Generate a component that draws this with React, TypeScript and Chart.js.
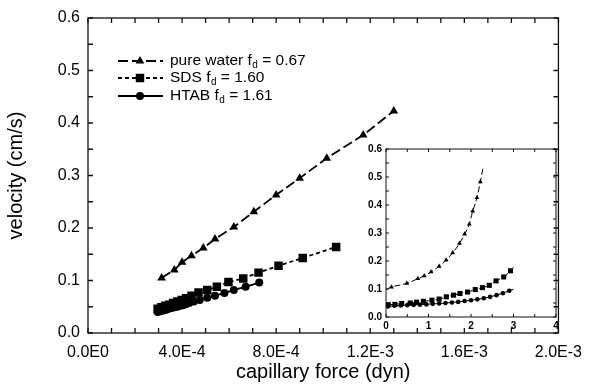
import { useEffect, useRef } from "react";
import { Chart, registerables } from "chart.js";

Chart.register(...registerables);

// ---------- data (main plot) ----------
const waterForce = [3.13e-4, 3.67e-4, 4.0e-4, 4.4e-4, 4.9e-4, 5.4e-4, 6.2e-4, 7.05e-4, 8.0e-4, 9.0e-4, 1.015e-3, 1.17e-3, 1.3e-3];
const waterVelocity = [0.105, 0.12, 0.135, 0.147, 0.162, 0.179, 0.202, 0.231, 0.263, 0.295, 0.333, 0.377, 0.423];

const sdsForce = [2.96e-4, 3.12e-4, 3.28e-4, 3.45e-4, 3.62e-4, 3.8e-4, 3.98e-4, 4.17e-4, 4.4e-4, 4.7e-4, 5.07e-4, 5.48e-4, 5.97e-4, 6.6e-4, 7.25e-4, 8.1e-4, 9.13e-4, 1.055e-3];
const sdsVelocity = [0.046, 0.049, 0.052, 0.054, 0.057, 0.06, 0.063, 0.066, 0.071, 0.077, 0.082, 0.088, 0.097, 0.104, 0.115, 0.128, 0.143, 0.164];

const htabForce = [2.96e-4, 3.08e-4, 3.2e-4, 3.32e-4, 3.44e-4, 3.56e-4, 3.68e-4, 3.8e-4, 3.92e-4, 4.04e-4, 4.16e-4, 4.3e-4, 4.5e-4, 4.75e-4, 5.07e-4, 5.4e-4, 5.8e-4, 6.2e-4, 6.7e-4, 7.28e-4];
const htabVelocity = [0.04, 0.0415, 0.043, 0.0445, 0.046, 0.0475, 0.049, 0.05, 0.052, 0.053, 0.055, 0.057, 0.06, 0.063, 0.067, 0.071, 0.076, 0.082, 0.088, 0.096];

const mainXTicks = [0, 0.0004, 0.0008, 0.0012, 0.0016, 0.002];
const mainXLabels = ["0.0E0", "4.0E-4", "8.0E-4", "1.2E-3", "1.6E-3", "2.0E-3"];
const mainYTicks = [0, 0.1, 0.2, 0.3, 0.4, 0.5, 0.6];
const mainYLabels = ["0.0", "0.1", "0.2", "0.3", "0.4", "0.5", "0.6"];

const legendLabels = [
  { main: "pure water f", sub: "d", tail: " = 0.67" },
  { main: "SDS f", sub: "d", tail: " = 1.60" },
  { main: "HTAB f", sub: "d", tail: " = 1.61" },
];

// ---------- data (inset) ----------
const insetWaterX = [0.13, 0.49, 0.75, 0.9, 1.06, 1.25, 1.415, 1.57, 1.73, 1.85, 1.96, 2.04, 2.14, 2.22];
const insetWaterV = [0.107, 0.12, 0.137, 0.147, 0.161, 0.181, 0.203, 0.229, 0.263, 0.296, 0.332, 0.378, 0.426, 0.483];
const insetWaterFitEnds = { x: [0, 2.28], v: [0.098, 0.531] };

const insetSdsX = [0.055, 0.21, 0.37, 0.57, 0.72, 0.88, 1.08, 1.25, 1.42, 1.59, 1.74, 1.92, 2.1, 2.27, 2.43, 2.59, 2.77, 2.93];
const insetSdsV = [0.044, 0.045, 0.048, 0.05, 0.053, 0.056, 0.06, 0.064, 0.072, 0.078, 0.084, 0.089, 0.098, 0.105, 0.113, 0.129, 0.143, 0.165];
const insetSdsFitEnds = { x: [0, 3.0], v: [0.043, 0.178] };

const insetHtabX = [0.05, 0.2, 0.35, 0.5, 0.65, 0.8, 0.95, 1.1, 1.25, 1.4, 1.55, 1.7, 1.85, 2.0, 2.15, 2.3, 2.45, 2.6, 2.75, 2.9];
const insetHtabV = [0.038, 0.04, 0.041, 0.042, 0.043, 0.044, 0.045, 0.047, 0.048, 0.05, 0.052, 0.054, 0.057, 0.06, 0.063, 0.067, 0.072, 0.078, 0.085, 0.094];
const insetHtabFitEnds = { x: [0, 3.0], v: [0.037, 0.099] };

const insetXTicks = [0, 1, 2, 3, 4];
const insetXLabels = ["0", "1", "2", "3", "4"];
const insetYTicks = [0, 0.1, 0.2, 0.3, 0.4, 0.5, 0.6];
const insetYLabels = ["0.0", "0.1", "0.2", "0.3", "0.4", "0.5", "0.6"];

const FONT = "'Liberation Sans', Arial, Helvetica, sans-serif";

const pts = (xs: number[], ys: number[]) => xs.map((x, i) => ({ x, y: ys[i] }));
const fitPts = (xs: number[], ys: number[], ends: { x: number[]; v: number[] }) => [
  { x: ends.x[0], y: ends.v[0] },
  ...pts(xs, ys),
  { x: ends.x[1], y: ends.v[1] },
];

// frame with inward ticks
const framePlugin = {
  id: "frameTicks",
  afterDraw(chart: any, _args: any, opts: any) {
    const { ctx, chartArea } = chart;
    const { left, right, top, bottom } = chartArea;
    const xs = chart.scales.x;
    const ys = chart.scales.y;
    ctx.save();
    ctx.strokeStyle = "#111";
    ctx.lineWidth = opts.lineWidth || 1.2;
    ctx.setLineDash([]);
    ctx.strokeRect(left, top, right - left, bottom - top);
    const L = opts.tickLen || 5;
    ctx.beginPath();
    for (let v = xs.min; v <= xs.max + 1e-12; v += opts.xStep) {
      const px = xs.getPixelForValue(v);
      ctx.moveTo(px, bottom);
      ctx.lineTo(px, bottom - L);
      ctx.moveTo(px, top);
      ctx.lineTo(px, top + L);
    }
    for (let v = ys.min; v <= ys.max + 1e-12; v += opts.yStep) {
      const py = ys.getPixelForValue(v);
      ctx.moveTo(left, py);
      ctx.lineTo(left + L, py);
      ctx.moveTo(right, py);
      ctx.lineTo(right - L, py);
    }
    ctx.stroke();
    ctx.restore();
  },
};

function drawMarker(ctx: CanvasRenderingContext2D, kind: string, x: number, y: number, r: number) {
  ctx.beginPath();
  if (kind === "triangle") {
    for (let k = 0; k < 3; k++) {
      const a = (k * 2 * Math.PI) / 3;
      const px = x + Math.sin(a) * r;
      const py = y - Math.cos(a) * r;
      if (k === 0) ctx.moveTo(px, py);
      else ctx.lineTo(px, py);
    }
    ctx.closePath();
  } else if (kind === "rect") {
    const s = r * Math.SQRT1_2;
    ctx.rect(x - s, y - s, 2 * s, 2 * s);
  } else {
    ctx.arc(x, y, r, 0, Math.PI * 2);
  }
  ctx.fill();
}

const legendPlugin = {
  id: "customLegend",
  afterDraw(chart: any) {
    const ctx: CanvasRenderingContext2D = chart.ctx;
    const rows = [61, 78, 96];
    const dashes = [[10, 4], [4, 3], []];
    const kinds = ["triangle", "rect", "circle"];
    const radii = [5, 6, 4];
    ctx.save();
    ctx.fillStyle = "#000";
    ctx.strokeStyle = "#000";
    legendLabels.forEach((item, i) => {
      const y = rows[i];
      ctx.lineWidth = 1.8;
      ctx.setLineDash(dashes[i]);
      ctx.beginPath();
      ctx.moveTo(118, y);
      ctx.lineTo(163, y);
      ctx.stroke();
      ctx.setLineDash([]);
      drawMarker(ctx, kinds[i], 140, y, radii[i]);
      ctx.textBaseline = "middle";
      ctx.textAlign = "left";
      let x = 170;
      ctx.font = `15.5px ${FONT}`;
      ctx.fillText(item.main, x, y);
      x += ctx.measureText(item.main).width;
      ctx.font = `10px ${FONT}`;
      ctx.fillText(item.sub, x + 0.5, y + 4);
      x += ctx.measureText(item.sub).width + 0.5;
      ctx.font = `15.5px ${FONT}`;
      ctx.fillText(item.tail, x, y);
    });
    ctx.restore();
  },
};

export default function App() {
  const mainRef = useRef<HTMLCanvasElement | null>(null);
  const insetRef = useRef<HTMLCanvasElement | null>(null);

  useEffect(() => {
    if (!mainRef.current || !insetRef.current) return;

    const main = new Chart(mainRef.current, {
      type: "scatter",
      data: {
        datasets: [
          {
            label: "pure water",
            data: pts(waterForce, waterVelocity),
            showLine: true,
            borderColor: "#000",
            backgroundColor: "#000",
            borderWidth: 1.8,
            borderDash: [10, 4],
            pointStyle: "triangle",
            pointRadius: 5,
            pointBorderWidth: 0,
          },
          {
            label: "SDS",
            data: pts(sdsForce, sdsVelocity),
            showLine: true,
            borderColor: "#000",
            backgroundColor: "#000",
            borderWidth: 1.8,
            borderDash: [4, 3],
            pointStyle: "rect",
            pointRadius: 6,
            pointBorderWidth: 0,
          },
          {
            label: "HTAB",
            data: pts(htabForce, htabVelocity),
            showLine: true,
            borderColor: "#000",
            backgroundColor: "#000",
            borderWidth: 1.8,
            pointStyle: "circle",
            pointRadius: 4,
            pointBorderWidth: 0,
          },
        ],
      },
      options: {
        animation: false,
        responsive: false,
        events: [],
        layout: { padding: { left: 0, top: 18, right: 25, bottom: 0 } },
        plugins: {
          legend: { display: false },
          tooltip: { enabled: false },
          frameTicks: { xStep: 0.0001, yStep: 0.05, tickLen: 5, lineWidth: 1.3 },
        } as any,
        scales: {
          x: {
            type: "linear",
            min: 0,
            max: 0.002,
            afterBuildTicks: (s: any) => {
              s.ticks = mainXTicks.map((v) => ({ value: v }));
            },
            afterFit: (s: any) => {
              s.height = 53;
            },
            grid: { display: false, drawTicks: false },
            border: { display: false },
            ticks: {
              autoSkip: false,
              maxRotation: 0,
              padding: 10,
              color: "#000",
              font: { family: FONT, size: 16 },
              callback: (_v: any, i: number) => mainXLabels[i],
            },
            title: {
              display: true,
              text: "capillary force (dyn)",
              color: "#000",
              font: { family: FONT, size: 20 },
              padding: { top: 0, bottom: 2 },
            },
          },
          y: {
            type: "linear",
            min: 0,
            max: 0.6,
            afterBuildTicks: (s: any) => {
              s.ticks = mainYTicks.map((v) => ({ value: v }));
            },
            afterFit: (s: any) => {
              s.width = 88;
            },
            grid: { display: false, drawTicks: false },
            border: { display: false },
            ticks: {
              autoSkip: false,
              padding: 8,
              color: "#000",
              font: { family: FONT, size: 16 },
              callback: (_v: any, i: number) => mainYLabels[i],
            },
            title: {
              display: true,
              text: "velocity (cm/s)",
              color: "#000",
              font: { family: FONT, size: 20 },
              padding: { top: 4, bottom: 0 },
            },
          },
        },
      },
      plugins: [framePlugin, legendPlugin],
    });

    const inset = new Chart(insetRef.current, {
      type: "scatter",
      data: {
        datasets: [
          {
            data: fitPts(insetWaterX, insetWaterV, insetWaterFitEnds),
            showLine: true,
            borderColor: "#000",
            borderWidth: 1,
            borderDash: [6, 3],
            pointRadius: 0,
            tension: 0.4,
            cubicInterpolationMode: "monotone",
          },
          {
            data: pts(insetWaterX, insetWaterV),
            backgroundColor: "#000",
            pointStyle: "triangle",
            pointRadius: 2.8,
            pointBorderWidth: 0,
          },
          {
            data: fitPts(insetSdsX, insetSdsV, insetSdsFitEnds),
            showLine: true,
            borderColor: "#000",
            borderWidth: 1,
            borderDash: [3, 2],
            pointRadius: 0,
            cubicInterpolationMode: "monotone",
          },
          {
            data: pts(insetSdsX, insetSdsV),
            backgroundColor: "#000",
            pointStyle: "rect",
            pointRadius: 3.6,
            pointBorderWidth: 0,
          },
          {
            data: fitPts(insetHtabX, insetHtabV, insetHtabFitEnds),
            showLine: true,
            borderColor: "#000",
            borderWidth: 1,
            pointRadius: 0,
            cubicInterpolationMode: "monotone",
          },
          {
            data: pts(insetHtabX, insetHtabV),
            backgroundColor: "#000",
            pointStyle: "circle",
            pointRadius: 2.3,
            pointBorderWidth: 0,
          },
        ],
      },
      options: {
        animation: false,
        responsive: false,
        events: [],
        layout: { padding: { left: 356, top: 149, right: 36, bottom: 51 } },
        plugins: {
          legend: { display: false },
          tooltip: { enabled: false },
          frameTicks: { xStep: 0.5, yStep: 0.05, tickLen: 3, lineWidth: 1 },
        } as any,
        scales: {
          x: {
            type: "linear",
            min: 0,
            max: 4,
            afterBuildTicks: (s: any) => {
              s.ticks = insetXTicks.map((v) => ({ value: v }));
            },
            afterFit: (s: any) => {
              s.height = 18;
            },
            grid: { display: false, drawTicks: false },
            border: { display: false },
            ticks: {
              autoSkip: false,
              maxRotation: 0,
              padding: 3,
              color: "#000",
              font: { family: FONT, size: 10, weight: "bold" },
              callback: (_v: any, i: number) => insetXLabels[i],
            },
          },
          y: {
            type: "linear",
            min: 0,
            max: 0.6,
            afterBuildTicks: (s: any) => {
              s.ticks = insetYTicks.map((v) => ({ value: v }));
            },
            afterFit: (s: any) => {
              s.width = 30;
            },
            grid: { display: false, drawTicks: false },
            border: { display: false },
            ticks: {
              autoSkip: false,
              padding: 4,
              color: "#000",
              font: { family: FONT, size: 10, weight: "bold" },
              callback: (_v: any, i: number) => insetYLabels[i],
            },
          },
        },
      },
      plugins: [framePlugin],
    });

    return () => {
      main.destroy();
      inset.destroy();
    };
  }, []);

  return (
    <div style={{ position: "absolute", left: 0, top: 0, width: 592, height: 386, background: "#fff" }}>
      <canvas ref={mainRef} width={592} height={386} style={{ position: "absolute", left: 0, top: 0 }} />
      <canvas ref={insetRef} width={592} height={386} style={{ position: "absolute", left: 0, top: 0 }} />
    </div>
  );
}
